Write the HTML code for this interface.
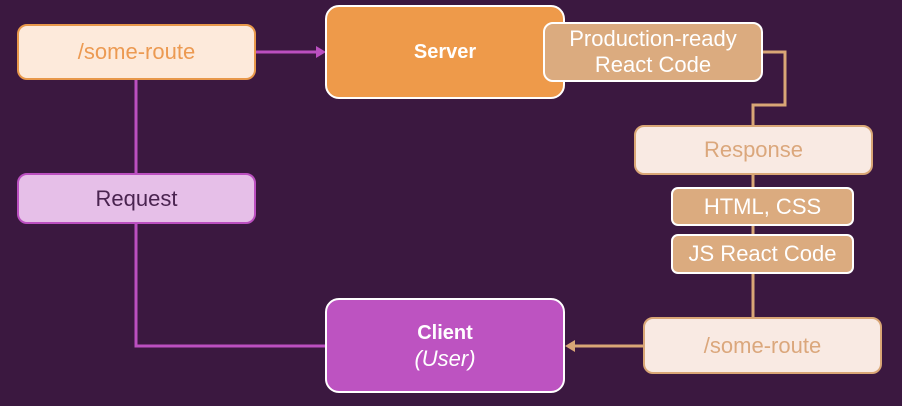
<!DOCTYPE html>
<html><head><meta charset="utf-8"><style>
body{margin:0;width:902px;height:406px;background:#3b1840;overflow:hidden;position:relative;font-family:"Liberation Sans",sans-serif}
.b{position:absolute;box-sizing:border-box;display:flex;align-items:center;justify-content:center;text-align:center;border-radius:10px;border:2px solid;font-size:22px;line-height:26px}
svg{position:absolute;left:0;top:0}
</style></head><body>
<svg width="902" height="406">
<g fill="none" stroke-width="3">
<path d="M256 52H318" stroke="#bb4fc0"/>
<path d="M136 80V173M136 224V346H326" stroke="#bb4fc0"/>
<path d="M762 52H785V105H753V125M753 175V188M753 225V235M753 273V318M643 346H574" stroke="#d9a676"/>
</g>
<path d="M326 52l-10 -6v12z" fill="#bb4fc0"/>
<path d="M565 346l10 -6v12z" fill="#d9a676"/>
</svg>
<div class="b" style="left:17px;top:24px;width:239px;height:56px;background:#fdeadb;border-color:#e8984a;color:#ec9a52">/some-route</div>
<div class="b" style="left:17px;top:173px;width:239px;height:51px;background:#e6bfe8;border-color:#bb4fc0;color:#4a2450">Request</div>
<div class="b" style="left:325px;top:5px;width:240px;height:94px;background:#ee9a4a;border-color:#fff;color:#fff;font-weight:bold;font-size:20px;border-radius:14px">Server</div>
<div class="b" style="left:325px;top:298px;width:240px;height:95px;background:#bd53c1;border-color:#fff;color:#fff;border-radius:14px;flex-direction:column"><b style="font-size:20px">Client</b><i>(User)</i></div>
<div class="b" style="left:543px;top:22px;width:220px;height:60px;background:#dbab7f;border-color:#fff;color:#fff">Production-ready<br>React Code</div>
<div class="b" style="left:634px;top:125px;width:239px;height:50px;background:#f9eae3;border-color:#d9a676;color:#dba77c">Response</div>
<div class="b" style="left:671px;top:187px;width:183px;height:39px;background:#dbab7f;border-color:#fff;color:#fff;border-radius:7px">HTML, CSS</div>
<div class="b" style="left:671px;top:234px;width:183px;height:40px;background:#dbab7f;border-color:#fff;color:#fff;border-radius:7px">JS React Code</div>
<div class="b" style="left:643px;top:317px;width:239px;height:57px;background:#f9eae3;border-color:#d9a676;color:#dba77c">/some-route</div>
</body></html>
